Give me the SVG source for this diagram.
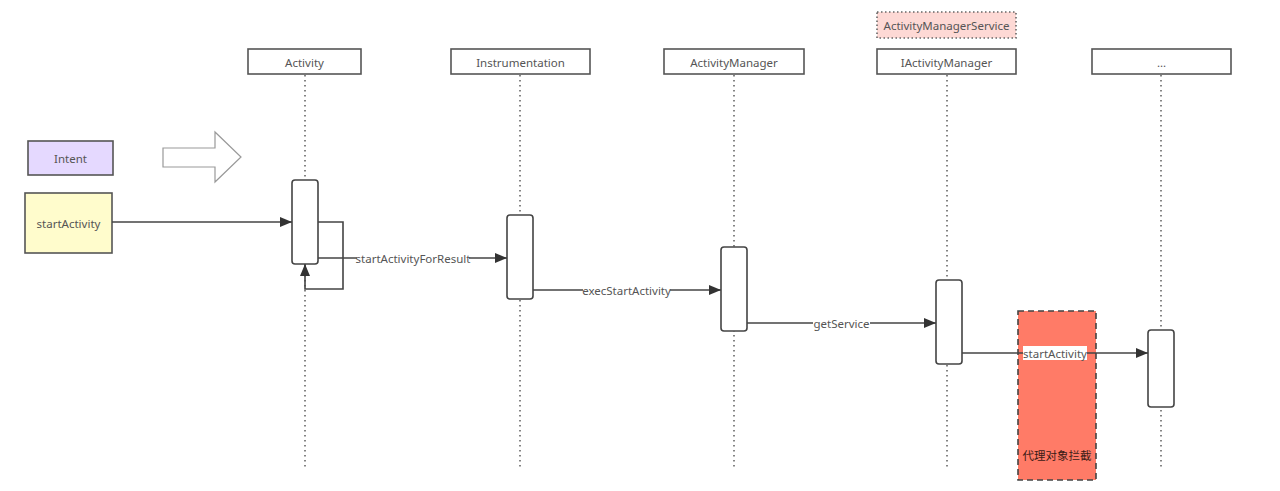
<svg xmlns="http://www.w3.org/2000/svg" width="1280" height="491" viewBox="0 0 1280 491">
<defs>
<style>
text{font-family:"Noto Sans","Noto Sans CJK SC",sans-serif;font-size:11.5px;fill:#555;text-anchor:middle;dominant-baseline:central}
.hdr{fill:#fff;stroke:#555;stroke-width:1.6}
.life{stroke:#666;stroke-width:1.6;stroke-dasharray:1.5 3.5;fill:none}
.act{fill:#fff;stroke:#444;stroke-width:1.6}
.msg{stroke:#444;stroke-width:1.6;fill:none}
.lbl{fill:#fff}
</style>
<marker id="ah" viewBox="0 0 12 10" refX="12" refY="5" markerWidth="12" markerHeight="10" markerUnits="userSpaceOnUse" orient="auto">
<path d="M0,0 L12,5 L0,10 z" fill="#333"/>
</marker>
</defs>
<rect width="1280" height="491" fill="#fff"/>

<g id="lifelines">
<line class="life" x1="305" y1="75" x2="305" y2="468"/>
<line class="life" x1="520" y1="75" x2="520" y2="468"/>
<line class="life" x1="734" y1="75" x2="734" y2="468"/>
<line class="life" x1="947" y1="75" x2="947" y2="468"/>
<line class="life" x1="1161" y1="75" x2="1161" y2="468"/>
</g>

<g id="ams">
<rect x="877" y="12" width="139" height="26" fill="#fdd9d5" stroke="#666" stroke-width="1.6" stroke-dasharray="1.5 2.5"/>
<text x="946.5" y="25">ActivityManagerService</text>
</g>
<g id="h-activity"><rect class="hdr" x="248" y="49" width="113" height="25"/><text x="304.5" y="62">Activity</text></g>
<g id="h-instr"><rect class="hdr" x="451" y="49" width="139" height="25"/><text x="520.5" y="62">Instrumentation</text></g>
<g id="h-am"><rect class="hdr" x="664" y="49" width="140" height="25"/><text x="734" y="62">ActivityManager</text></g>
<g id="h-iam"><rect class="hdr" x="877" y="49" width="139" height="25"/><text x="946.5" y="62">IActivityManager</text></g>
<g id="h-etc"><rect class="hdr" x="1092" y="49" width="139" height="25"/><text x="1161.5" y="62">...</text></g>

<g id="intent"><rect x="28" y="141" width="85" height="34" fill="#e5d9ff" stroke="#555" stroke-width="1.6"/><text x="70.5" y="158">Intent</text></g>
<g id="startActivityNode"><rect x="25" y="193" width="87" height="60" fill="#fffccc" stroke="#555" stroke-width="1.6"/><text x="68.5" y="223">startActivity</text></g>
<g id="bigArrow"><path d="M163,148 L215,148 L215,132 L241,157 L215,182 L215,167 L163,167 Z" fill="#fff" stroke="#999" stroke-width="1.2"/></g>

<g id="proxy">
<rect x="1018" y="311" width="78" height="169" fill="#ff7b67" stroke="#444" stroke-width="1.6" stroke-dasharray="6 4"/>
<text x="1057" y="455" style="fill:#3a1a15">代理对象拦截</text>
</g>

<g id="bars">
<rect class="act" x="292" y="180" width="26" height="84" rx="3"/>
<rect class="act" x="507" y="215" width="26" height="84" rx="3"/>
<rect class="act" x="721" y="247" width="26" height="84" rx="3"/>
<rect class="act" x="936" y="280" width="26" height="84" rx="3"/>
<rect class="act" x="1148" y="330" width="26" height="77" rx="3"/>
</g>

<g id="connectors">
<line class="msg" x1="112" y1="222" x2="292" y2="222" marker-end="url(#ah)"/>
<polyline class="msg" points="318,222 343,222 343,289 305,289 305,264" marker-end="url(#ah)"/>
<line class="msg" x1="318" y1="258" x2="507" y2="258" marker-end="url(#ah)"/>
<line class="msg" x1="533" y1="290" x2="721" y2="290" marker-end="url(#ah)"/>
<line class="msg" x1="747" y1="323" x2="936" y2="323" marker-end="url(#ah)"/>
<line class="msg" x1="962" y1="353" x2="1148" y2="353" marker-end="url(#ah)"/>
<rect class="lbl" x="357" y="251" width="112" height="14"/>
<text x="413" y="258">startActivityForResult</text>
<rect class="lbl" x="583" y="283" width="87" height="14"/>
<text x="626.5" y="290">execStartActivity</text>
<rect class="lbl" x="813" y="316" width="57" height="14"/>
<text x="841.5" y="323">getService</text>
<rect class="lbl" x="1023" y="346" width="64" height="14"/>
<text x="1055" y="353">startActivity</text>
</g>
</svg>
